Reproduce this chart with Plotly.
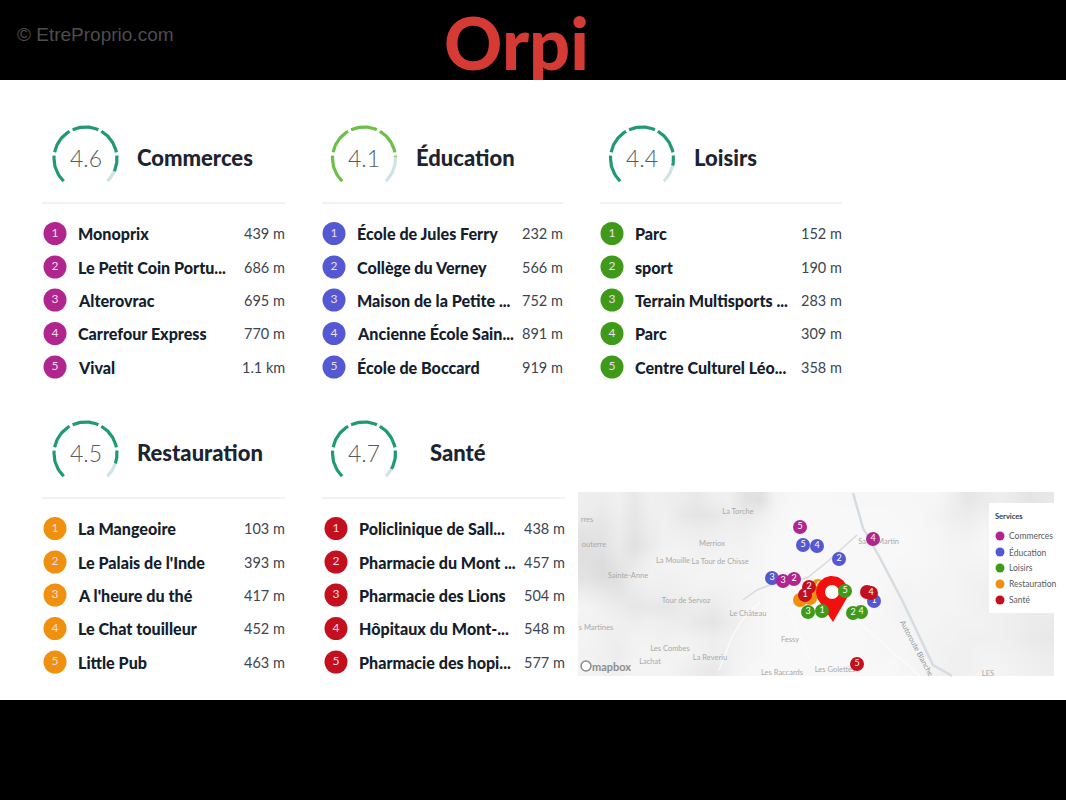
import numpy as np
import plotly.graph_objects as go

# ---------- data ----------
categories = ["Commerces", "Éducation", "Loisirs", "Restauration", "Santé"]
scores = [4.6, 4.1, 4.4, 4.5, 4.7]
commerces_names = ["Monoprix", "Le Petit Coin Portu...", "Alterovrac", "Carrefour Express", "Vival"]
commerces_dist = ["439 m", "686 m", "695 m", "770 m", "1.1 km"]
education_names = ["École de Jules Ferry", "Collège du Verney", "Maison de la Petite ...", "Ancienne École Sain...", "École de Boccard"]
education_dist = ["232 m", "566 m", "752 m", "891 m", "919 m"]
loisirs_names = ["Parc", "sport", "Terrain Multisports ...", "Parc", "Centre Culturel Léo..."]
loisirs_dist = ["152 m", "190 m", "283 m", "309 m", "358 m"]
restauration_names = ["La Mangeoire", "Le Palais de l'Inde", "A l'heure du thé", "Le Chat touilleur", "Little Pub"]
restauration_dist = ["103 m", "393 m", "417 m", "452 m", "463 m"]
sante_names = ["Policlinique de Sall...", "Pharmacie du Mont ...", "Pharmacie des Lions", "Hôpitaux du Mont-...", "Pharmacie des hopi..."]
sante_dist = ["438 m", "457 m", "504 m", "548 m", "577 m"]
all_names = [commerces_names, education_names, loisirs_names, restauration_names, sante_names]
all_dist = [commerces_dist, education_dist, loisirs_dist, restauration_dist, sante_dist]

cat_colors = ["#b0268e", "#5458d2", "#3f9a1a", "#f0900f", "#c40f1e"]
gauge_colors = ["#1f9a74", "#6cc04a", "#1f9a74", "#1f9a74", "#1f9a74"]

# layout of the panels, in picture pixels
gauge_cx = [85.5, 364, 642, 85.5, 364]
gauge_cy = [158.5, 158.5, 158.5, 453.5, 453.5]
title_x = [137, 416, 694, 137, 430]
rule_x0 = [42, 322, 600, 42, 322]
rule_x1 = [285, 563, 842, 285, 565]
rule_y = [203, 203, 203, 498, 498]
dot_x = [55, 334, 612, 55, 336]
name_x = [78, 356.5, 635, 78, 358.5]
dist_x = [285, 563, 842, 285, 565]
row_y_top = [233.5, 267, 300, 333.5, 367]
row_y_bottom = [528.5, 562, 595, 628.5, 662]

# logo
logo_text = ["Orpi"]
logo_x = [516.5]
logo_y = [52]

# map points: number label, x, y for each category
map_commerces = ([5, 4, 3, 2], [800, 873, 783, 794], [527, 539, 581, 579])
map_education = ([5, 4, 2, 3, 1], [803, 817, 839, 772, 874], [545, 546, 559, 578, 601])
map_restauration = ["", "", "", "4"], [800, 810, 815, 818], [600, 598, 592, 586]
map_sante = (["2", "1", "", "4", "5"], [809, 805, 867, 871, 857], [587, 595, 592, 593, 664])
map_loisirs = ([5, 3, 1, 2, 4], [845, 808, 822, 853, 861], [591, 612, 611, 613, 612])

# relief of the base map (grey level)
relief = [
    [238,236,240,232,240,238,236,232,238,240,226,224,244,247,248,248,247,247,247,247,247,246,246,240,230,234,238,234,228,232],
    [236,232,238,230,238,240,232,228,230,236,234,238,246,248,248,248,248,248,248,248,247,247,244,238,236,240,238,236,236,238],
    [228,228,236,228,236,240,238,236,238,240,240,244,247,248,248,248,248,248,248,248,248,247,246,242,240,244,242,240,242,244],
    [224,226,234,224,234,242,242,240,240,242,242,246,248,248,248,248,248,248,248,248,248,247,246,244,244,246,244,242,244,246],
    [224,220,230,232,240,244,244,242,244,244,244,246,248,248,248,248,248,248,248,248,247,247,246,244,244,244,242,240,240,242],
    [226,220,224,238,242,240,242,244,244,244,246,246,248,248,248,248,248,248,248,247,246,246,245,244,242,242,240,236,232,234],
    [236,232,228,234,238,238,240,242,240,242,244,246,248,248,248,248,248,248,248,246,244,245,244,244,242,240,238,234,230,232],
    [244,240,236,230,232,230,234,236,234,240,244,246,248,248,248,248,248,248,248,246,242,244,244,244,242,240,240,238,234,236],
    [242,242,240,238,240,238,236,232,228,236,242,246,248,248,248,248,248,248,247,246,244,244,244,242,242,242,240,238,236,234],
    [244,240,238,242,242,240,242,240,238,240,244,246,248,248,248,248,248,248,247,246,246,244,242,242,240,240,240,238,234,232],
    [242,240,236,242,244,242,244,242,238,240,244,246,248,248,248,248,248,248,247,246,246,244,242,240,240,242,242,240,238,236],
    [244,240,240,244,244,244,240,236,232,240,246,248,248,248,248,248,248,248,248,248,246,244,242,240,240,244,244,242,240,238],
]
place_names = ["rres", "La Torche", "Merriox", "outerre", "La Mouille", "La Tour de Chisse", "Sainte-Anne",
               "Tour de Servoz", "Le Château", "s Martines", "Fessy", "Les Combes", "La Reveriu",
               "Lachat", "Les Raccards", "Les Golettes", "Sa", "Martin", "LES"]
place_x = [587, 738, 712, 594, 673, 720, 628, 686, 748, 596, 790, 670, 710, 650, 782, 835, 862, 888, 988]
place_y = [520, 512, 544, 545, 561, 562, 576, 601, 614, 628, 640, 649, 658, 662, 673, 670, 542, 542, 674]
highway_x = [853, 863, 880, 903, 933, 952]
highway_y = [493, 528, 558, 602, 665, 676]
road_x = [743, 757, 770, 807, 827, 857]
road_y = [600, 590, 585, 578, 562, 535]
lane_a_x = [719, 732, 742, 760]
lane_a_y = [670, 637, 620, 602]
lane_b_x = [790, 810, 830]
lane_b_y = [612, 660, 676]
lane_c_x = [857, 890, 920]
lane_c_y = [620, 650, 676]
pin_cx, pin_cy, pin_r, pin_tip = 832, 592, 16, 622

LIST_FONT = "Lato"
fig = go.Figure()
shapes = []
annotations = []

def add_poly(x, y, color):
    fig.add_trace(go.Scatter(x=x, y=y, mode="lines", fill="toself", fillcolor=color,
                             line=dict(color=color, width=0), hoverinfo="skip"))

# white page area, below everything
shapes.append(dict(type="rect", xref="x", yref="y", x0=0, x1=1066, y0=80, y1=700,
                   fillcolor="white", line_width=0, layer="below"))
# header logo, with a white strip over its descender
fig.add_trace(go.Scatter(x=logo_x, y=logo_y, text=logo_text, mode="text", hoverinfo="skip",
                         textposition="middle center",
                         textfont=dict(family="Lato", size=72, color="#d63a35", weight=900)))
add_poly([500, 600, 600, 500, 500], [80, 80, 100, 100, 80], "white")

# base map
fig.add_trace(go.Heatmap(z=relief, x=np.linspace(578 + 7.93, 1054 - 7.93, 30),
                         y=np.linspace(492 + 7.67, 676 - 7.67, 12), zmin=0, zmax=255, zsmooth="best",
                         colorscale=[[0, "#000000"], [1, "#ffffff"]], showscale=False, hoverinfo="skip"))
for lx, ly in [(lane_a_x, lane_a_y), (lane_b_x, lane_b_y), (lane_c_x, lane_c_y)]:
    fig.add_trace(go.Scatter(x=lx, y=ly, mode="lines", line=dict(color="#fcfcfc", width=1.2), hoverinfo="skip"))
fig.add_trace(go.Scatter(x=highway_x, y=highway_y, mode="lines", line=dict(color="#d6dcdf", width=2.5), hoverinfo="skip"))
fig.add_trace(go.Scatter(x=road_x, y=road_y, mode="lines", line=dict(color="#d9d9d9", width=1.5), hoverinfo="skip"))
fig.add_trace(go.Scatter(x=place_x, y=place_y, text=place_names, mode="text",
                         textfont=dict(family="Lato", size=7.5, color="#a9a9a9"), hoverinfo="skip"))
annotations.append(dict(x=917, y=648, xref="x", yref="y", text="Autoroute Blanche", showarrow=False,
                        textangle=62, font=dict(family="Lato", size=7.5, color="#8f9599")))
annotations.append(dict(x=611, y=666, xref="x", yref="y", text="<b>mapbox</b>", showarrow=False,
                        font=dict(family="Lato", size=11, color="#8d8d8d")))
fig.add_trace(go.Scatter(x=[586], y=[666], mode="markers", hoverinfo="skip",
                         marker=dict(size=10, color="white", line=dict(color="#8d8d8d", width=1.5))))

def map_markers(points, color):
    labels, xs, ys = points
    fig.add_trace(go.Scatter(x=xs, y=ys, text=[str(v) for v in labels], mode="markers+text",
                             textposition="middle center",
                             textfont=dict(family="Lato", size=9, color="white"),
                             marker=dict(size=14, color=color), hoverinfo="skip"))

map_markers(map_restauration, cat_colors[3])
# pin
t = np.radians(np.linspace(-205, 25, 60))
pin_x = list(pin_cx + pin_r * np.cos(t)) + [pin_cx + 1]
pin_y = list(pin_cy + pin_r * np.sin(t)) + [pin_tip]
add_poly(pin_x, pin_y, "#f40f0f")
fig.add_trace(go.Scatter(x=[pin_cx], y=[pin_cy], mode="markers", hoverinfo="skip",
                         marker=dict(size=14, color="white")))
map_markers(map_education, cat_colors[1])
map_markers(map_commerces, cat_colors[0])
map_markers(map_loisirs, cat_colors[2])
map_markers(map_sante, cat_colors[4])

# map legend
add_poly([989, 1054, 1054, 989, 989], [503, 503, 613, 613, 503], "white")
legend_y = [536, 552, 568, 584, 600]
annotations.append(dict(x=995, y=516.5, xref="x", yref="y", text="<b>Services</b>", showarrow=False, xanchor="left",
                        xshift=-2, font=dict(family="Lato", size=7.5, color="#333b44")))
# panels
SPAN = 272.0
GAP = 6.0
def arc(cx, cy, a0, a1, color):
    a = np.radians(np.linspace(a0, a1, 20))
    fig.add_trace(go.Scatter(x=cx + 31.5 * np.cos(a), y=cy - 31.5 * np.sin(a), mode="lines",
                             line=dict(color=color, width=3.2), hoverinfo="skip"))

for i, cat in enumerate(categories):
    # gauge: five dashes, coloured up to score / 5
    start = 226.0
    filled = scores[i] / 5 * SPAN
    for s in range(5):
        d0 = s * SPAN / 5 + GAP / 2 * (s > 0)
        d1 = (s + 1) * SPAN / 5 - GAP / 2 * (s < 4)
        if d0 < filled:
            arc(gauge_cx[i], gauge_cy[i], start - d0, start - min(d1, filled), gauge_colors[i])
        if d1 > filled:
            arc(gauge_cx[i], gauge_cy[i], start - max(d0, filled), start - d1, "#cfe3e6")
    annotations.append(dict(x=gauge_cx[i], y=gauge_cy[i] - 1, xref="x", yref="y", text=f"{scores[i]}", showarrow=False,
                            font=dict(family="Lato", size=23, color="#555b61", weight=300)))
    annotations.append(dict(x=title_x[i], y=gauge_cy[i] - 1, xref="x", yref="y", text=cat, showarrow=False,
                            xanchor="left", xshift=-2, font=dict(family=LIST_FONT, size=22, color="#1b2430", weight=900)))
    shapes.append(dict(type="line", xref="x", yref="y", x0=rule_x0[i], x1=rule_x1[i], y0=rule_y[i], y1=rule_y[i],
                       line=dict(color="#e3e5e7", width=1.2), layer="above"))
    rows = row_y_top if i < 3 else row_y_bottom
    fig.add_trace(go.Scatter(x=[dot_x[i]] * 5, y=rows, text=["1", "2", "3", "4", "5"], mode="markers+text",
                             textposition="middle center",
                             textfont=dict(family="Lato", size=12, color="#f3dcec"),
                             marker=dict(size=23, color=cat_colors[i]), hoverinfo="skip"))
    for r in range(5):
        annotations.append(dict(x=name_x[i], y=rows[r], xref="x", yref="y", text=all_names[i][r],
                                showarrow=False, xanchor="left", xshift=-2,
                                font=dict(family=LIST_FONT, size=16.1, color="#14202c", weight=900)))
        annotations.append(dict(x=dist_x[i], y=rows[r], xref="x", yref="y", text=all_dist[i][r],
                                showarrow=False, xanchor="right", xshift=2,
                                font=dict(family="Lato", size=14.5, color="#3c4550")))
    # map legend entry
    fig.add_trace(go.Scatter(x=[1000], y=[legend_y[i]], mode="markers", hoverinfo="skip",
                             marker=dict(size=9, color=cat_colors[i])))
    annotations.append(dict(x=1009, y=legend_y[i], xref="x", yref="y", text=cat, showarrow=False, xanchor="left",
                            xshift=-2, font=dict(family="Lato", size=8.5, color="#555b61")))

# header
annotations.append(dict(x=17, y=34.5, xref="x", yref="y", text="© EtreProprio.com", showarrow=False, xanchor="left",
                        xshift=-2, font=dict(family="Liberation Sans", size=19, color="#4d4d4d")))

fig.update_layout(
    width=1066, height=800, margin=dict(l=0, r=0, t=0, b=0), showlegend=False,
    paper_bgcolor="black", plot_bgcolor="black",
    xaxis=dict(range=[0, 1066], visible=False, fixedrange=True),
    yaxis=dict(range=[800, 0], visible=False, fixedrange=True),
    shapes=shapes, annotations=annotations,
)
fig.write_html("out.html", config=dict(displayModeBar=False),
               post_script="document.body.style.margin='0';document.body.style.overflow='hidden';document.body.style.background='black';")
